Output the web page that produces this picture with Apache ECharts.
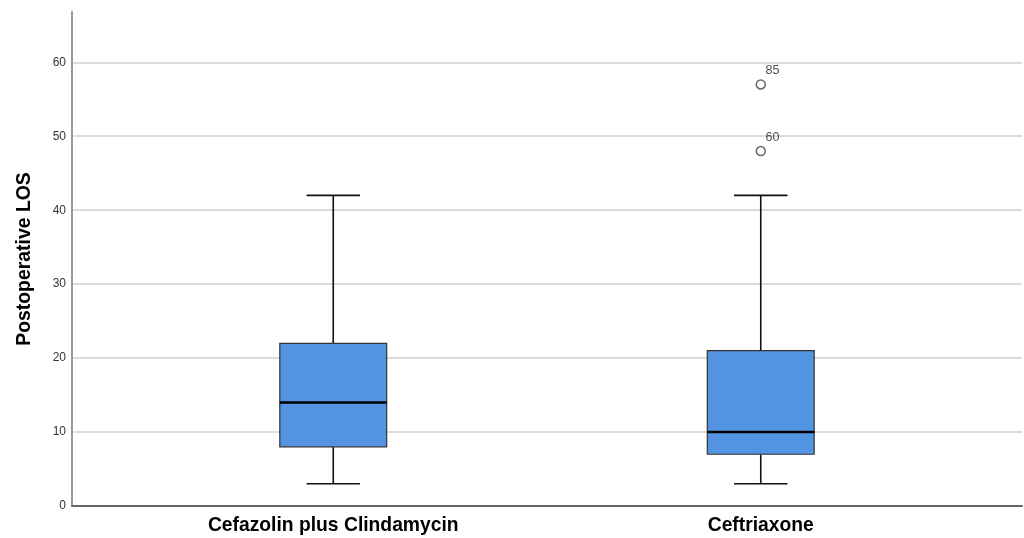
<!DOCTYPE html>
<html><head><meta charset="utf-8">
<script src="https://cdn.jsdelivr.net/npm/echarts@6/dist/echarts.min.js"></script>
<style>html,body{margin:0;padding:0;background:#fff}#c{width:1024px;height:538px}</style>
</head><body><div id="c"></div>
<script>
var categories = ['Cefazolin plus Clindamycin', 'Ceftriaxone'];
// [min, Q1, median, Q3, max]
var boxValues = [
  [3, 8, 14, 22, 42],
  [3, 7, 10, 21, 42]
];
var outlierCategory = [1, 1];
var outlierValues = [57, 48];
var outlierLabels = ['85', '60'];
var yTicks = { min: 0, max: 66.8, interval: 10 };

var chart = echarts.init(document.getElementById('c'));
var boxData = boxValues.map(function (b, i) { return [i].concat(b); });
var outData = outlierValues.map(function (v, i) { return { value: [outlierCategory[i], v], label: { formatter: outlierLabels[i] } }; });
var FONT = 'Liberation Sans, Arial, sans-serif';

chart.setOption({
  animation: false,
  grid: [
    { left: 72, right: 2, top: 12, bottom: 32 },
    { left: 119.5, right: 49.5, top: 12, bottom: 32 }
  ],
  xAxis: [
    { gridIndex: 0, type: 'value', min: 0, max: 1, axisLine: { show: true, lineStyle: { color: '#666', width: 2 } }, axisTick: { show: false }, axisLabel: { show: false }, splitLine: { show: false } },
    { gridIndex: 1, type: 'category', data: categories, axisLine: { show: false }, axisTick: { show: false },
      axisLabel: { color: '#000', fontSize: 19.3, fontWeight: 'bold', fontFamily: FONT, margin: 10 } }
  ],
  yAxis: [
    { gridIndex: 0, type: 'value', min: yTicks.min, max: yTicks.max, interval: yTicks.interval,
      axisLine: { show: true, lineStyle: { color: '#999', width: 2 } }, axisTick: { show: false },
      axisLabel: { color: '#333', fontSize: 12, fontFamily: FONT, margin: 6, showMaxLabel: false },
      splitLine: { show: true, showMaxLine: false, lineStyle: { color: '#cfcfcf', width: 1.5 } },
      name: 'Postoperative LOS', nameLocation: 'middle', nameGap: 38, nameRotate: 90,
      nameTextStyle: { color: '#000', fontSize: 19.4, fontWeight: 'bold', fontFamily: FONT } },
    { gridIndex: 1, type: 'value', min: yTicks.min, max: yTicks.max, show: false }
  ],
  series: [
    {
      type: 'custom', xAxisIndex: 1, yAxisIndex: 1, data: boxData,
      encode: { x: 0, y: [1, 2, 3, 4, 5] },
      renderItem: function (params, api) {
        var c = api.value(0);
        var band = api.size([1, 0])[0];
        var bw = band * 0.25, cw = band * 0.0625;
        var pMin = api.coord([c, api.value(1)]);
        var pQ1 = api.coord([c, api.value(2)]);
        var pMed = api.coord([c, api.value(3)]);
        var pQ3 = api.coord([c, api.value(4)]);
        var pMax = api.coord([c, api.value(5)]);
        var x = pMed[0];
        var wStyle = { stroke: '#111', lineWidth: 1.6 };
        return {
          type: 'group',
          children: [
            { type: 'line', shape: { x1: x, y1: pMax[1], x2: x, y2: pQ3[1] }, style: wStyle },
            { type: 'line', shape: { x1: x, y1: pQ1[1], x2: x, y2: pMin[1] }, style: wStyle },
            { type: 'line', shape: { x1: x - cw, y1: pMax[1], x2: x + cw, y2: pMax[1] }, style: wStyle },
            { type: 'line', shape: { x1: x - cw, y1: pMin[1], x2: x + cw, y2: pMin[1] }, style: wStyle },
            { type: 'rect', shape: { x: x - bw / 2, y: pQ3[1], width: bw, height: pQ1[1] - pQ3[1] },
              style: { fill: '#5294e2', stroke: '#333', lineWidth: 1.2 } },
            { type: 'line', shape: { x1: x - bw / 2, y1: pMed[1], x2: x + bw / 2, y2: pMed[1] }, style: { stroke: '#000', lineWidth: 2.6 } }
          ]
        };
      }
    },
    {
      type: 'scatter', xAxisIndex: 1, yAxisIndex: 1, data: outData,
      symbol: 'circle', symbolSize: 9,
      itemStyle: { color: '#fff', borderColor: '#444', borderWidth: 1.5 },
      label: { show: true, position: [10, -15], align: 'left', verticalAlign: 'top', color: '#222', fontSize: 12.5, fontFamily: FONT }
    }
  ]
});
</script></body></html>
